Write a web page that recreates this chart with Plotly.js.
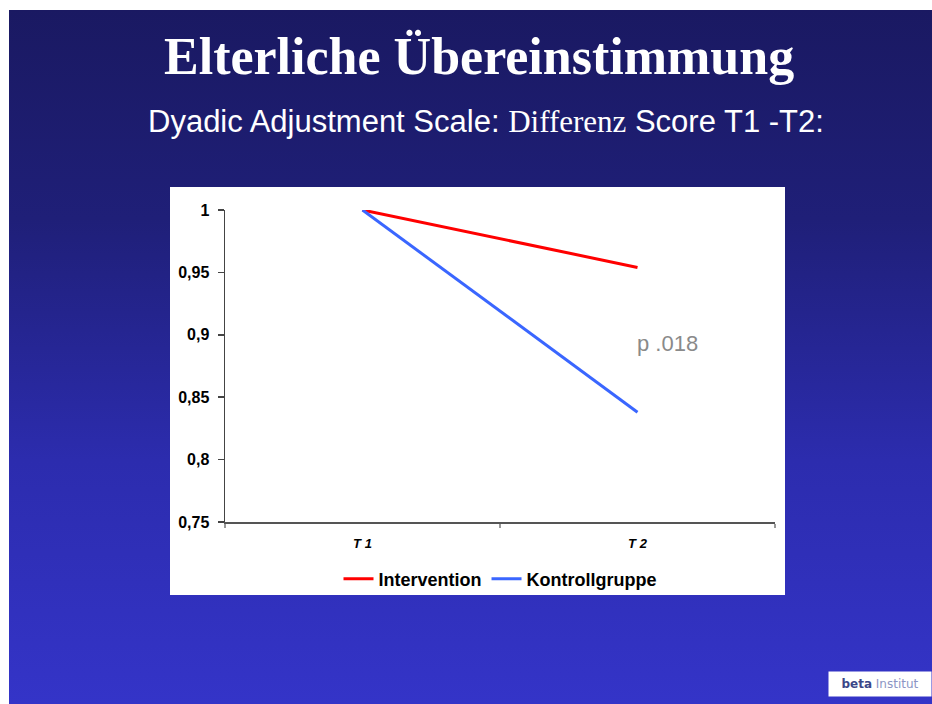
<!DOCTYPE html>
<html>
<head>
<meta charset="utf-8">
<script src="https://cdn.plot.ly/plotly-3.0.1.min.js"></script>
<style>
html,body{margin:0;padding:0;background:#ffffff;width:932px;height:704px;overflow:hidden;}
#slide{position:absolute;left:9px;top:10px;width:923px;height:694px;background:linear-gradient(to bottom,#1a1962 0%,#1f1f78 30%,#2c2cae 65%,#3434c8 100%);}
#chart{position:absolute;left:0;top:0;width:932px;height:704px;}
</style>
</head>
<body>
<div id="slide"></div>
<div id="chart"></div>
<script>
const categories = ["T 1", "T 2"];
const interventionValues = [1.0, 0.954];
const kontrollValues = [1.0, 0.838];
const seriesNames = ["Intervention", "Kontrollgruppe"];
const yTickValues = [0.75, 0.8, 0.85, 0.9, 0.95, 1];

const L = 225, R = 775, T = 210, B = 522;
const W = 932, H = 704;
const px = x => (x - L) / (R - L);
const py = y => (B - y) / (B - T);

const traces = [
  {x: categories, y: interventionValues, name: seriesNames[0], type: "scatter", mode: "lines",
   line: {color: "#ff0000", width: 3}},
  {x: categories, y: kontrollValues, name: seriesNames[1], type: "scatter", mode: "lines",
   line: {color: "#3a66ff", width: 3}}
];

const layout = {
  width: W, height: H,
  margin: {l: L, r: W - R, t: T, b: H - B, pad: 0},
  paper_bgcolor: "rgba(0,0,0,0)",
  plot_bgcolor: "#ffffff",
  separators: ",.",
  showlegend: true,
  legend: {orientation: "h", x: 0.5, xanchor: "center", y: py(579), yanchor: "middle",
           font: {family: "Liberation Sans, Arial", size: 18, color: "#000", weight: "bold"},
           bgcolor: "rgba(0,0,0,0)", itemwidth: 30, tracegroupgap: 0},
  xaxis: {type: "category", range: [-0.5, 1.5], tickson: "boundaries", ticks: "outside",
          ticklen: 4, tickcolor: "#999", tickwidth: 1.5, showline: true, linecolor: "#555", linewidth: 1.5,
          showgrid: false, zeroline: false, fixedrange: true, ticklabelstandoff: 9,
          tickfont: {family: "Liberation Sans, Arial", size: 13, color: "#000", weight: "bold", style: "italic"}},
  yaxis: {range: [0.75, 1], tickvals: yTickValues, ticks: "outside", ticklen: 6, tickcolor: "#444",
          tickwidth: 1.5, showline: true, linecolor: "#444", linewidth: 1.5, showgrid: false,
          zeroline: false, fixedrange: true, ticklabelstandoff: 5,
          tickfont: {family: "Liberation Sans, Arial", size: 16, color: "#000", weight: "bold"}},
  shapes: [
    {type: "rect", xref: "paper", yref: "paper", x0: px(170), x1: px(785), y0: py(595), y1: py(187),
     fillcolor: "#ffffff", line: {width: 0}, layer: "below"}
  ],
  annotations: [
    {xref: "paper", yref: "paper", x: px(479), y: py(56), xanchor: "center", yanchor: "middle",
     text: "<b>Elterliche Übereinstimmung</b>", showarrow: false,
     font: {family: "Liberation Serif, Times New Roman", size: 52, color: "#ffffff"}},
    {xref: "paper", yref: "paper", x: px(486), y: py(122), xanchor: "center", yanchor: "middle",
     text: "Dyadic Adjustment Scale: <span style=\"font-family:'Liberation Serif'\">Differenz</span> Score T1 -T2:",
     showarrow: false,
     font: {family: "Liberation Sans, Arial", size: 31, color: "#ffffff"}},
    {xref: "paper", yref: "paper", x: px(667), y: py(343), xanchor: "center", yanchor: "middle",
     text: "p .018", showarrow: false,
     font: {family: "Liberation Sans, Arial", size: 22, color: "#8a8a8a"}},
    {xref: "paper", yref: "paper", x: px(880), y: py(684), xanchor: "center", yanchor: "middle",
     text: "<b><span style=\"color:#3b4688\">beta</span></b> <span style=\"color:#8c95c4\">Institut</span>",
     showarrow: false, bgcolor: "#ffffff", borderpad: 5, width: 92,
     font: {family: "DejaVu Sans", size: 12, color: "#5a6498"}}
  ]
};

Plotly.newPlot("chart", traces, layout, {displayModeBar: false, staticPlot: true});
</script>
</body>
</html>
